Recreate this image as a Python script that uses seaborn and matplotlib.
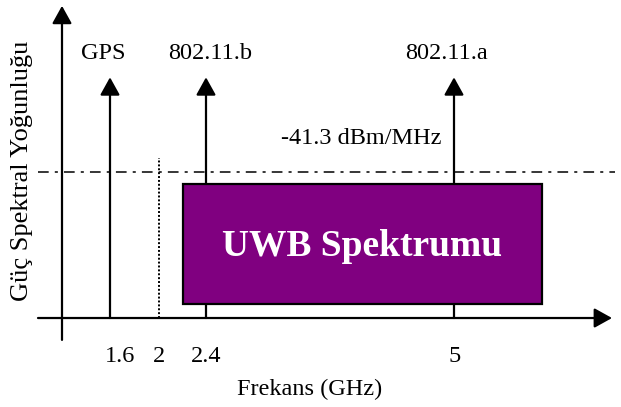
import numpy as np
import matplotlib
matplotlib.use("Agg")
import matplotlib.pyplot as plt
import seaborn as sns

# schematic values
tick_freqs = [1.6, 2.0, 2.4, 5.0]
tick_labels = ["1.6", "2", "2.4", "5"]
source_freqs = [1.6, 2.4, 5.0]
source_names = ["GPS", "802.11.b", "802.11.a"]
limit_label = "-41.3 dBm/MHz"
uwb_band = [2.2, 5.92]
uwb_name = "UWB Spektrumu"

# relative power levels (limit = 1)
limit_level = 1.0
uwb_level = [0.096, 0.918]
source_level = 1.65
marker_freq = 2.0
marker_level = 1.1

# drawing is schematic: frequency axis is not linear
ghz_knots = np.array([0.6, 1.6, 2.0, 2.4, 5.0, 7.0])
pos_knots = np.array([-12.5, 110, 159, 206, 454, 644.8])


def forward(f):
    return np.interp(f, ghz_knots, pos_knots)


def inverse(p):
    return np.interp(p, pos_knots, ghz_knots)


sns.set_style("white")
plt.rcParams["font.family"] = ["Liberation Serif", "DejaVu Serif"]
plt.rcParams["text.color"] = "black"

fig = plt.figure(figsize=(6.21, 4.07), dpi=100)
ax = fig.add_axes([0, 0, 1, 1])
ax.set_xscale("function", functions=(forward, inverse))
ax.set_xlim(inverse(0), inverse(621))
ax.set_ylim(-0.61, 2.18)
ax.axis("off")

axis_arrow = dict(arrowstyle="-|>,head_length=0.45,head_width=0.25", color="black",
                  lw=1.6, mutation_scale=24, shrinkA=0, shrinkB=0)

# coordinate axes
x_left, x_right = inverse(38), inverse(612)
y_axis_x = inverse(62)
ax.annotate("", xy=(x_right, 0), xytext=(x_left, 0), arrowprops=axis_arrow)
ax.annotate("", xy=(y_axis_x, 2.14), xytext=(y_axis_x, -0.15), arrowprops=axis_arrow)

# interference sources
name_shift = [-7, 4, -8]
for f, name, dx in zip(source_freqs, source_names, name_shift):
    ax.annotate("", xy=(f, source_level), xytext=(f, 0), arrowprops=axis_arrow, zorder=2)
    ax.annotate(name, xy=(f, source_level + 0.165), xytext=(dx * 0.72, 0),
                textcoords="offset points", ha="center", va="center", fontsize=17.5)

# FCC limit line
sns.lineplot(x=[inverse(38), inverse(615)], y=[limit_level, limit_level], ax=ax,
             color="black", lw=1.1, linestyle=(0, (7, 4, 2, 4)))
ax.text(inverse(361), limit_level + 0.23, limit_label, ha="center", va="center", fontsize=17.5)

# dotted marker at 2 GHz
ax.plot([marker_freq, marker_freq], [0, marker_level], color="black", lw=1.4,
        linestyle=(0, (1, 1)), zorder=2)

# UWB band
ax.add_patch(plt.Rectangle((uwb_band[0], uwb_level[0]), uwb_band[1] - uwb_band[0],
                           uwb_level[1] - uwb_level[0], facecolor="#800080",
                           edgecolor="black", lw=1.6, zorder=3))
ax.text(inverse(362), (uwb_level[0] + uwb_level[1]) / 2 - 0.02, uwb_name, ha="center",
        va="center", fontsize=27, fontweight="bold", color="white", zorder=4)

# tick labels and axis titles
label_shift = [10, 0, 0, 1]
for f, lab, dx in zip(tick_freqs, tick_labels, label_shift):
    ax.annotate(lab, xy=(f, -0.267), xytext=(dx * 0.72, 0), textcoords="offset points",
                ha="center", va="center", fontsize=17.5)
ax.text(inverse(310), -0.49, "Frekans (GHz)", ha="center", va="center", fontsize=17.5)
ax.text(inverse(22), 1.01, "Güç Spektral Yoğunluğu", rotation=90, ha="center",
        va="center", fontsize=19)

fig.savefig("out.png", dpi=100)
